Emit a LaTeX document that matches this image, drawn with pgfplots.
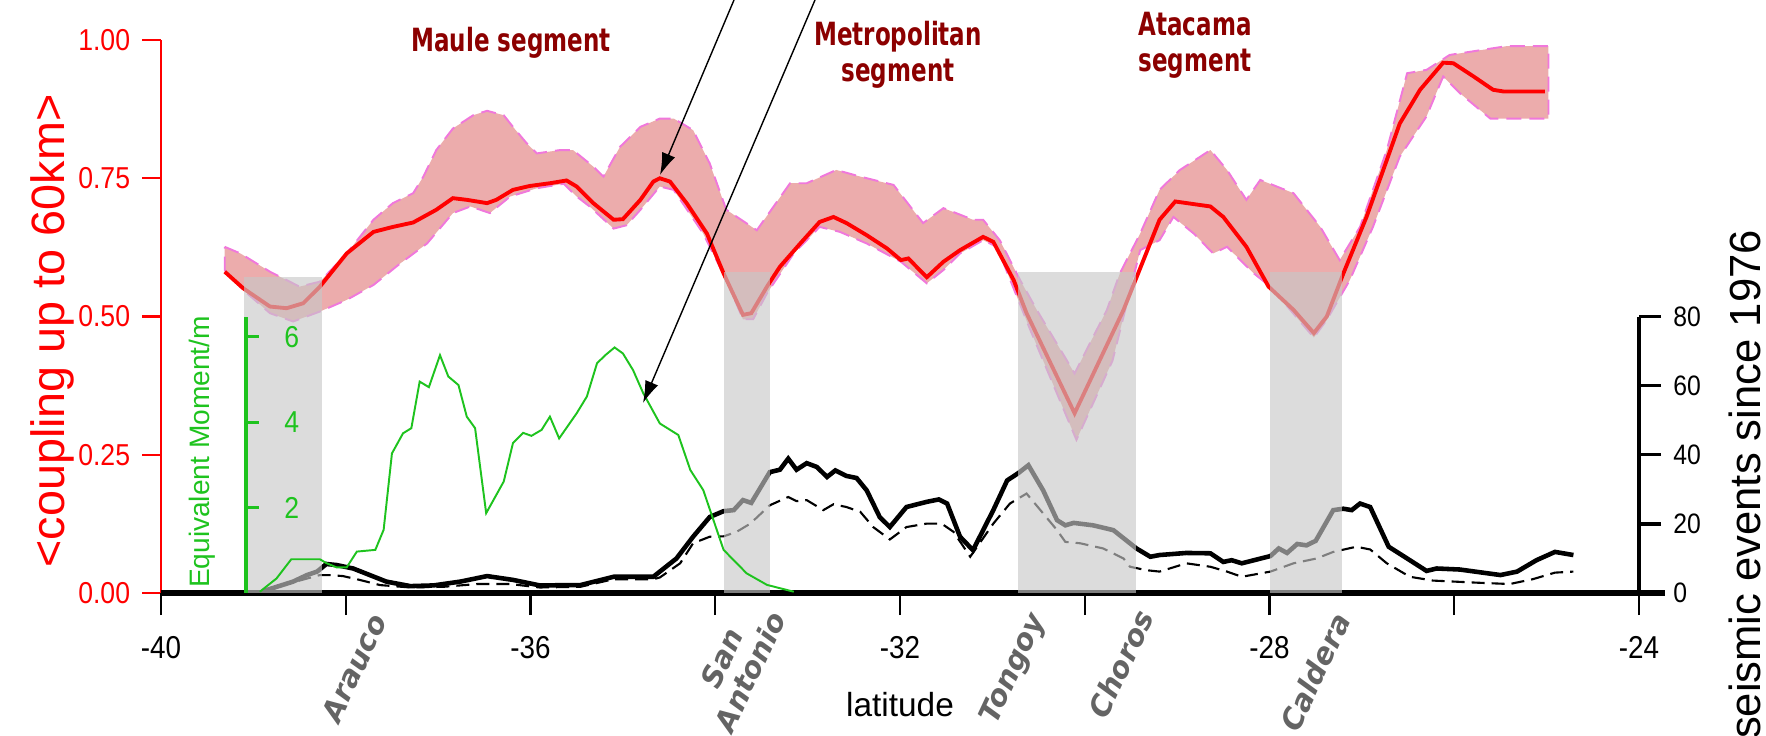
\documentclass[border=0pt]{standalone}
\usepackage{pgfplots}
\pgfplotsset{compat=1.18}
\usepackage{pgfplotstable}
\usetikzlibrary{arrows.meta}
\usepackage{fontspec}
\setmainfont{Liberation Sans}
\newfontfamily\tickfont{Liberation Sans}[FakeStretch=0.88]
\newfontfamily\segfont{DejaVu Sans}[FakeStretch=0.72]
\newfontfamily\placefont{DejaVu Sans}

\definecolor{segred}{RGB}{140,0,0}
\definecolor{placegray}{RGB}{100,100,100}
\definecolor{bandfill}{RGB}{236,172,172}
\definecolor{banddash}{RGB}{240,120,220}
\definecolor{emgreen}{RGB}{30,195,30}
\definecolor{rectgray}{RGB}{200,200,200}

% mean coupling
\pgfplotstableread{
lat c
-39.31 0.581
-39.11 0.551
-38.82 0.518
-38.64 0.515
-38.46 0.524
-38.28 0.554
-37.99 0.614
-37.70 0.653
-37.49 0.662
-37.27 0.670
-37.02 0.693
-36.84 0.714
-36.69 0.711
-36.47 0.705
-36.37 0.711
-36.19 0.729
-36.01 0.736
-35.79 0.741
-35.61 0.746
-35.50 0.735
-35.32 0.705
-35.10 0.675
-35.00 0.676
-34.81 0.711
-34.67 0.744
-34.60 0.750
-34.49 0.744
-34.31 0.705
-34.09 0.650
-33.91 0.578
-33.70 0.503
-33.61 0.506
-33.44 0.554
-33.30 0.590
-33.08 0.632
-32.87 0.671
-32.72 0.680
-32.58 0.669
-32.36 0.647
-32.14 0.623
-31.99 0.602
-31.91 0.605
-31.71 0.571
-31.53 0.599
-31.35 0.620
-31.10 0.644
-30.99 0.635
-30.77 0.566
-30.63 0.506
-30.11 0.325
-29.58 0.512
-29.19 0.675
-29.02 0.708
-28.64 0.699
-28.50 0.680
-28.25 0.626
-28.01 0.554
-27.74 0.512
-27.52 0.470
-27.38 0.500
-27.20 0.578
-26.95 0.680
-26.73 0.783
-26.59 0.849
-26.37 0.910
-26.12 0.959
-26.01 0.958
-25.79 0.934
-25.58 0.910
-25.47 0.907
-25.02 0.907
}\coupling

% spread of the individual models: upper edge (west to east), then lower edge (east to west)
\pgfplotstableread{
lat c
-39.31 0.626
-39.14 0.614
-38.82 0.581
-38.50 0.554
-38.28 0.563
-37.99 0.614
-37.70 0.675
-37.49 0.705
-37.27 0.723
-37.16 0.753
-37.02 0.801
-36.84 0.840
-36.62 0.864
-36.47 0.872
-36.29 0.864
-36.19 0.843
-36.04 0.813
-35.93 0.795
-35.68 0.801
-35.54 0.801
-35.32 0.771
-35.21 0.753
-35.03 0.807
-34.81 0.843
-34.60 0.858
-34.45 0.858
-34.24 0.837
-34.06 0.777
-33.88 0.693
-33.55 0.656
-33.19 0.741
-33.01 0.741
-32.69 0.765
-32.43 0.753
-32.07 0.738
-31.75 0.669
-31.53 0.696
-31.21 0.675
-31.10 0.675
-30.92 0.638
-30.70 0.566
-30.52 0.512
-30.11 0.397
-29.76 0.512
-29.62 0.578
-29.40 0.650
-29.19 0.729
-28.97 0.765
-28.64 0.801
-28.46 0.765
-28.25 0.711
-28.10 0.747
-27.74 0.723
-27.45 0.662
-27.24 0.602
-27.02 0.662
-26.73 0.801
-26.51 0.940
-26.30 0.946
-26.05 0.973
-25.43 0.989
-24.98 0.989
-24.98 0.858
-25.61 0.858
-25.94 0.904
-26.12 0.934
-26.30 0.862
-26.59 0.789
-26.88 0.662
-27.13 0.566
-27.38 0.494
-27.52 0.462
-27.99 0.554
-28.17 0.578
-28.46 0.626
-28.61 0.614
-28.82 0.650
-29.04 0.680
-29.19 0.638
-29.40 0.620
-29.70 0.420
-30.09 0.277
-30.60 0.480
-30.95 0.626
-31.10 0.638
-31.35 0.614
-31.53 0.584
-31.71 0.560
-31.99 0.599
-32.36 0.632
-32.65 0.653
-32.87 0.662
-33.15 0.614
-33.44 0.542
-33.59 0.495
-33.70 0.495
-33.88 0.566
-34.13 0.650
-34.45 0.729
-34.60 0.735
-34.81 0.693
-34.96 0.665
-35.10 0.659
-35.36 0.699
-35.50 0.717
-35.64 0.740
-35.93 0.732
-36.22 0.717
-36.44 0.687
-36.65 0.699
-36.84 0.687
-37.12 0.632
-37.41 0.596
-37.70 0.557
-37.99 0.530
-38.28 0.509
-38.57 0.491
-38.82 0.506
-39.11 0.548
-39.31 0.584
}\band

% equivalent moment per metre
\pgfplotstableread{
lat m
-38.93 0.03
-38.75 0.34
-38.59 0.79
-38.28 0.79
-38.21 0.70
-38.10 0.60
-37.99 0.60
-37.88 0.97
-37.68 1.01
-37.59 1.48
-37.50 3.27
-37.38 3.74
-37.29 3.86
-37.20 4.95
-37.10 4.82
-36.98 5.57
-36.89 5.07
-36.78 4.87
-36.69 4.13
-36.60 3.86
-36.48 1.87
-36.29 2.61
-36.19 3.51
-36.08 3.75
-35.99 3.68
-35.88 3.82
-35.79 4.13
-35.69 3.62
-35.50 4.21
-35.39 4.60
-35.28 5.38
-35.19 5.57
-35.09 5.75
-35.00 5.61
-34.89 5.22
-34.78 4.68
-34.60 3.97
-34.40 3.70
-34.27 2.88
-34.13 2.41
-33.91 1.01
-33.66 0.46
-33.44 0.19
-33.15 0.03
}\moment

% seismic events (solid)
\pgfplotstableread{
lat n
-38.90 0.5
-38.57 3.3
-38.42 5.2
-38.31 6.2
-38.21 8.4
-38.10 8.1
-37.92 7.1
-37.74 5.2
-37.56 3.3
-37.30 2.0
-37.05 2.2
-36.76 3.3
-36.47 4.9
-36.19 3.8
-35.90 2.2
-35.46 2.3
-35.10 4.7
-34.67 4.7
-34.60 6.2
-34.42 10.0
-34.24 16.3
-34.06 22.0
-33.91 23.7
-33.80 24.0
-33.70 26.9
-33.61 26.1
-33.41 35.0
-33.30 35.7
-33.21 38.9
-33.12 35.7
-33.01 37.6
-32.90 36.5
-32.79 33.6
-32.70 35.5
-32.58 33.9
-32.47 33.3
-32.36 29.7
-32.22 22.0
-32.11 19.1
-31.93 24.9
-31.71 26.4
-31.58 27.1
-31.49 25.9
-31.35 16.3
-31.21 12.4
-30.99 24.0
-30.84 32.6
-30.72 34.7
-30.61 37.0
-30.45 29.7
-30.30 21.1
-30.21 19.6
-30.12 20.3
-29.91 19.6
-29.69 18.2
-29.44 12.9
-29.29 10.5
-29.19 11.0
-28.90 11.6
-28.64 11.5
-28.50 9.0
-28.41 9.5
-28.30 8.6
-27.99 10.7
-27.90 12.9
-27.81 11.6
-27.70 14.2
-27.60 13.8
-27.50 15.1
-27.31 24.0
-27.20 24.4
-27.11 24.0
-27.02 25.9
-26.91 24.9
-26.71 13.4
-26.51 10.0
-26.30 6.4
-26.19 7.1
-25.94 6.8
-25.50 5.2
-25.32 6.2
-25.11 9.5
-24.91 11.9
-24.71 11.0
}\events

% seismic events (dashed)
\pgfplotstableread{
lat n
-38.93 0.4
-38.50 3.6
-38.28 5.2
-38.17 5.2
-38.03 4.9
-37.85 3.8
-37.63 2.3
-37.30 1.6
-36.94 1.8
-36.58 2.6
-36.22 2.6
-35.90 1.6
-35.46 1.8
-35.10 4.0
-34.67 4.0
-34.60 4.5
-34.38 8.6
-34.24 14.4
-34.06 16.3
-33.91 16.4
-33.77 17.7
-33.62 20.1
-33.41 25.4
-33.21 27.8
-33.12 26.6
-33.01 26.9
-32.83 24.0
-32.72 25.7
-32.58 24.9
-32.43 23.5
-32.29 19.1
-32.11 15.5
-31.93 19.1
-31.71 20.1
-31.55 20.1
-31.42 17.7
-31.24 10.5
-30.99 20.1
-30.81 25.9
-30.63 28.8
-30.48 24.0
-30.30 18.2
-30.21 14.8
-30.05 14.4
-29.80 12.9
-29.58 10.0
-29.51 7.6
-29.33 6.6
-29.19 6.2
-28.90 8.6
-28.64 7.6
-28.46 6.2
-28.30 4.7
-27.99 6.2
-27.74 8.6
-27.49 10.0
-27.31 11.9
-27.06 13.4
-26.91 12.6
-26.73 8.6
-26.48 4.7
-26.23 3.6
-25.76 3.0
-25.40 2.6
-25.15 4.0
-24.91 5.9
-24.71 6.2
}\eventsb

\begin{document}
\begin{tikzpicture}
\useasboundingbox (0,0) rectangle (176.6mm,73.5mm);

% ---- coupling axis (left, red)
\begin{axis}[
  at={(16.1mm,14.2mm)}, anchor=south west, scale only axis,
  width=147.8mm, height=55.3mm,
  xmin=-40, xmax=-24, ymin=0, ymax=1,
  axis x line=none, axis y line*=left,
  axis line style={-},
  y axis line style={red, line width=0.85pt, -},
  ytick={0,0.25,0.5,0.75,1},
  ytick align=outside, major tick length=1.85mm,
  y tick style={red, line width=0.7pt},
  yticklabel style={text=red, font=\tickfont\fontsize{8.6}{9}\selectfont,
    /pgf/number format/.cd, fixed, fixed zerofill, precision=2},
  /pgf/number format/assume math mode=true,
]
\addplot[fill=bandfill, draw=banddash, line width=0.55pt, dash pattern=on 1.5mm off 0.8mm] table {\band} -- cycle;
\addplot[red, line width=1.1pt] table {\coupling};
\end{axis}

% ---- seismic events axis (right, black) with latitude axis
\begin{axis}[
  at={(16.1mm,14.2mm)}, anchor=south west, scale only axis,
  width=147.8mm, height=27.63mm,
  xmin=-40, xmax=-24, ymin=0, ymax=80,
  axis x line*=bottom, axis y line*=right,
  axis line style={-},
  x axis line style={line width=1.7pt, -},
  y axis line style={line width=1.2pt, -},
  xtick={-40,-36,-32,-28,-24}, minor xtick={-38,-34,-30,-26},
  ytick={0,20,40,60,80},
  tick align=outside,
  major tick length=2.2mm, minor tick length=2.2mm,
  x tick style={black, line width=0.6pt},
  minor x tick style={black, line width=0.6pt},
  y tick style={black, line width=0.9pt},
  xticklabel style={font=\tickfont\fontsize{9}{10}\selectfont, yshift=-0.9mm},
  yticklabel style={font=\tickfont\fontsize{8}{9}\selectfont},
  /pgf/number format/assume math mode=true,
]
\addplot[black, line width=1.3pt] table {\events};
\addplot[black, line width=0.6pt, dash pattern=on 1.3mm off 0.7mm] table {\eventsb};
\end{axis}

% ---- grey bands (overlay)
\begin{axis}[
  at={(16.1mm,14.2mm)}, anchor=south west, scale only axis,
  width=147.8mm, height=55.3mm,
  xmin=-40, xmax=-24, ymin=0, ymax=1, hide axis,
]
\addplot[draw=none, fill=rectgray, fill opacity=0.64] coordinates {(-39.10,0) (-38.26,0) (-38.26,0.571) (-39.10,0.571)} -- cycle;
\addplot[draw=none, fill=rectgray, fill opacity=0.64] coordinates {(-33.91,0) (-33.41,0) (-33.41,0.58) (-33.91,0.58)} -- cycle;
\addplot[draw=none, fill=rectgray, fill opacity=0.64] coordinates {(-30.72,0) (-29.44,0) (-29.44,0.58) (-30.72,0.58)} -- cycle;
\addplot[draw=none, fill=rectgray, fill opacity=0.64] coordinates {(-28.00,0) (-27.21,0) (-27.21,0.58) (-28.00,0.58)} -- cycle;
\end{axis}

% ---- equivalent moment axis (green)
\begin{axis}[
  at={(24.6mm,14.2mm)}, anchor=south west, scale only axis,
  width=139.3mm, height=27.63mm,
  xmin=-39.08, xmax=-24, ymin=0, ymax=6.47,
  axis x line=none, axis y line*=left,
  axis line style={-},
  y axis line style={emgreen, line width=1.1pt, -},
  ytick={2,4,6}, ytick align=inside, major tick length=1.3mm,
  y tick style={emgreen, line width=0.8pt},
  yticklabel style={text=emgreen, anchor=west, xshift=2.6mm, font=\tickfont\fontsize{8.6}{9}\selectfont},
  /pgf/number format/assume math mode=true,
]
\addplot[emgreen, line width=0.55pt] table {\moment};
\end{axis}

% ---- extension of the bottom axis line past the right axis
\draw[line width=1.7pt] (163.9mm,14.2mm) -- (166.5mm,14.2mm);

% ---- arrows
\draw[-{Latex[length=2.2mm,width=1.4mm]}, line width=0.4pt] (73.4mm,73.5mm) -- (66.0mm,56.0mm);
\draw[-{Latex[length=2.2mm,width=1.4mm]}, line width=0.4pt] (81.5mm,73.5mm) -- (64.3mm,33.2mm);

% ---- segment titles
\begin{scope}[every node/.style={text=segred, align=center, font={\segfont\bfseries\fontsize{9.1}{10.2}\selectfont}}]
\node at (51.1mm,69.2mm) {Maule segment};
\node at (89.8mm,68.0mm) {Metropolitan\\segment};
\node at (119.5mm,69.0mm) {Atacama\\segment};
\end{scope}

% ---- place names
\begin{scope}[every node/.style={rotate=65, text=placegray, font={\placefont\bfseries\itshape\fontsize{8.3}{8.8}\selectfont}}]
\node at (35.4mm,6.7mm) {Arauco};
\node[align=center] at (73.6mm,7.0mm) {San\\Antonio};
\node at (101.4mm,6.6mm) {Tongoy};
\node at (112.1mm,7.1mm) {Choros};
\node at (131.5mm,6.3mm) {Caldera};
\end{scope}

% ---- axis titles
\node[rotate=90, text=red, font=\fontsize{13.3}{15}\selectfont] at (5.2mm,40.4mm) {<coupling up to 60km>};
\node[rotate=90, font=\fontsize{12.4}{14}\selectfont] at (174.5mm,25.05mm) {seismic events since 1976};
\node[font=\fontsize{9.5}{11}\selectfont] at (90mm,3.0mm) {latitude};
\node[rotate=90, text=emgreen, font=\fontsize{8}{9}\selectfont] at (20.2mm,28.3mm) {Equivalent Moment/m};
\end{tikzpicture}
\end{document}
